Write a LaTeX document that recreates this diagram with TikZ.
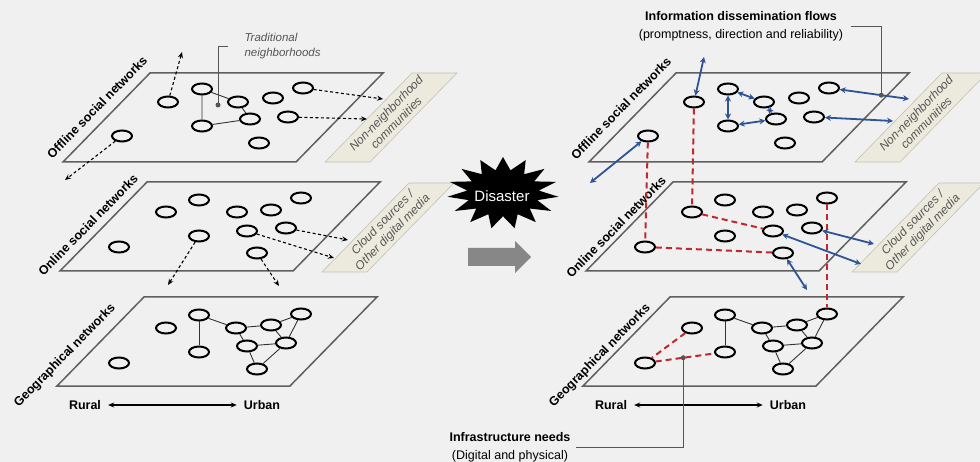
\documentclass[tikz,border=0pt]{standalone}
\usepackage{fontspec}
\setmainfont{Liberation Sans}
\usepackage{tikz}
\usetikzlibrary{arrows.meta,shapes.geometric}

\definecolor{bgc}{RGB}{240,240,240}
\definecolor{planec}{RGB}{95,95,95}
\definecolor{beige}{RGB}{236,234,221}
\definecolor{beigeline}{RGB}{195,193,180}
\definecolor{flowblue}{RGB}{46,84,150}
\definecolor{needred}{RGB}{192,40,45}
\definecolor{notegray}{RGB}{85,85,85}
\definecolor{arrowgray}{RGB}{135,135,135}

\tikzset{
  vtx/.style={ellipse,draw=black,line width=2pt,fill=bgc,minimum width=20pt,minimum height=11pt,inner sep=0pt},
  plane/.style={draw=planec,line width=1.5pt},
  link/.style={draw=black!80,line width=0.9pt},
  outflow/.style={black,line width=1.1pt,dash pattern=on 3pt off 2.5pt,-{Stealth[length=6pt,width=5pt]}},
  flow/.style={flowblue,line width=1.8pt,{Stealth[length=6pt,width=6pt]}-{Stealth[length=6pt,width=6pt]}},
  need/.style={needred,line width=2pt,dash pattern=on 6pt off 4pt},
  layer/.style={font=\fontsize{12.5}{15}\selectfont\bfseries,rotate=45.6},
  tag/.style={font=\fontsize{12.5}{15}\selectfont\bfseries,inner sep=4pt},
  span/.style={line width=1.3pt,{Stealth[length=6pt,width=5pt]}-{Stealth[length=6pt,width=5pt]},shorten <=3pt,shorten >=3pt},
  shelf/.style={fill=beige,draw=beigeline,line width=0.6pt},
  shelftext/.style={text=notegray,font=\fontsize{12}{14}\selectfont\itshape,align=center,rotate=45.6},
  note/.style={text=notegray,font=\fontsize{11.5}{15}\selectfont\itshape},
  callout/.style={draw=notegray,line width=0.9pt},
  pin/.style={fill=notegray}
}

\begin{document}
\begin{tikzpicture}[x=1pt,y=-1pt,font=\fontsize{12.5}{18}\selectfont]
\fill[bgc] (0,0) rectangle (980,462);
\useasboundingbox (0,0) rectangle (980,462);

\foreach \p/\s in {L/0,R/530}{
\begin{scope}[xshift=\s]
\filldraw[shelf] (325,162) -- (370,162) -- (457,73) -- (412,73) -- cycle;
\filldraw[shelf] (322,272) -- (367,272) -- (454,183) -- (409,183) -- cycle;
\node[shelftext] (\p-nonnb) at (391,118) {Non-neighborhood\\communities};
\node[shelftext] (\p-cloud) at (388,228) {Cloud sources /\\Other digital media};
\end{scope}
}

\foreach \p/\s in {L/0,R/526}{
\begin{scope}[xshift=\s]
\foreach \x/\y in {150/73,147/182,144/297}
  \draw[plane] (\x,\y) -- ++(233,0) -- ++(-87,89) -- ++(-233,0) -- cycle;
\foreach \n/\x/\y in {o1/168/102,o2/202/89,o3/238/102,o4/273/98,o5/303/88,o6/202/126,o7/250/119,o8/288/117,o9/259/143,o10/122/136,
  n1/199/200,n2/166/212,n3/237/212,n4/271/210,n5/301/198,n6/199/236,n7/247/231,n8/286/228,n9/257/253,n10/119/247,
  g1/199/315,g2/166/328,g3/199/352,g4/119/363,g5/236/328,g6/271/325,g7/301/314,g8/247/346,g9/286/343,g10/257/369}
  \node[vtx] (\p-\n) at (\x,\y) {};
\foreach \a/\b in {g1/g3,g1/g5,g5/g6,g6/g7,g7/g9,g6/g9,g5/g8,g8/g9,g8/g10,g10/g9}
  \draw[link] (\p-\a) -- (\p-\b);
\node[tag] (\p-rural) at (85,405) {Rural};
\node[tag] (\p-urban) at (262,405) {Urban};
\draw[span] (\p-rural) -- (\p-urban);
\end{scope}
}

\node[layer] (L-offl) at (97,107) {Offline social networks};
\node[layer] (L-onl) at (88,225) {Online social networks};
\node[layer] (L-geo) at (65,356) {Geographical networks};
\node[layer] (R-offl) at (621,108) {Offline social networks};
\node[layer] (R-onl) at (616,227) {Online social networks};
\node[layer] (R-geo) at (600,356) {Geographical networks};

\draw[link] (L-o2) -- (L-o3) (L-o2) -- (L-o6) (L-o3) -- (L-o7) (L-o6) -- (L-o7);
\coordinate (L-up) at (182,52);
\coordinate (L-nn1) at (383,99);
\coordinate (L-nn2) at (367,119);
\coordinate (L-away) at (65,180);
\coordinate (L-cs1) at (348,240);
\coordinate (L-cs2) at (334,258);
\coordinate (L-dn1) at (168,285);
\coordinate (L-dn2) at (279,286);
\draw[outflow] (L-o1) -- (L-up);
\draw[outflow] (L-o5) -- (L-nn1);
\draw[outflow] (L-o8) -- (L-nn2);
\draw[outflow] (L-o10) -- (L-away);
\draw[outflow] (L-n8) -- (L-cs1);
\draw[outflow] (L-n7) -- (L-cs2);
\draw[outflow] (L-n6) -- (L-dn1);
\draw[outflow] (L-n9) -- (L-dn2);

\coordinate (trad) at (218,105);
\node[note,anchor=west,align=left] (tradlbl) at (241,46) {Traditional\\neighborhoods};
\draw[callout,shorten >=13pt] (trad) |- (tradlbl.west);
\fill[pin] (trad) circle (2.5);

\node[star,star points=15,star point ratio=1.55,fill=black,minimum size=72pt,inner sep=0pt,xscale=1.55,transform shape] (burst) at (503,193) {};
\node[text=white,font=\fontsize{15}{18}\selectfont] (disaster) at (502,196) {Disaster};
\fill[arrowgray] (468,248) -- (515,248) -- (515,241) -- (531,257) -- (515,273) -- (515,266) -- (468,266) -- cycle;

\draw[need] (R-o1) -- (R-n2);
\draw[need] (R-o10) -- (R-n10);
\draw[need] (R-n5) -- (R-g7);
\draw[need] (R-n2) -- (R-n7);
\draw[need] (R-n10) -- (R-n9);
\draw[need] (R-g2) -- (R-g4);
\draw[need] (R-g4) -- coordinate[pos=0.47] (infradot) (R-g3);

\coordinate (R-up) at (704,57);
\coordinate (R-away) at (590,183);
\coordinate (R-nn1) at (909,99);
\coordinate (R-nn2) at (893,121);
\coordinate (R-cs1) at (874,244);
\coordinate (R-cs2) at (861,264);
\coordinate (R-dn) at (807,290);
\draw[flow] (R-o1) -- (R-up);
\draw[flow] (R-o10) -- (R-away);
\draw[flow] (R-o2) -- (R-o3);
\draw[flow] (R-o2) -- (R-o6);
\draw[flow] (R-o6) -- (R-o7);
\draw[flow] (R-o3) -- (R-o7);
\draw[flow] (R-o5) -- coordinate[pos=0.6] (flowdot) (R-nn1);
\draw[flow] (R-o8) -- (R-nn2);
\draw[flow] (R-n8) -- (R-cs1);
\draw[flow] (R-n7) -- (R-cs2);
\draw[flow] (R-n9) -- (R-dn);

\node[align=center] (flowlbl) at (741,26) {\textbf{Information dissemination flows}\\(promptness, direction and reliability)};
\draw[callout] (flowdot) |- ([xshift=4pt]flowlbl.east);
\fill[pin] (flowdot) circle (2.5);

\node[align=center] (infralbl) at (510,447) {\textbf{Infrastructure needs}\\(Digital and physical)};
\draw[callout] (infradot) |- ([xshift=2pt]infralbl.east);
\fill[pin] (infradot) circle (2.5);
\end{tikzpicture}
\end{document}
